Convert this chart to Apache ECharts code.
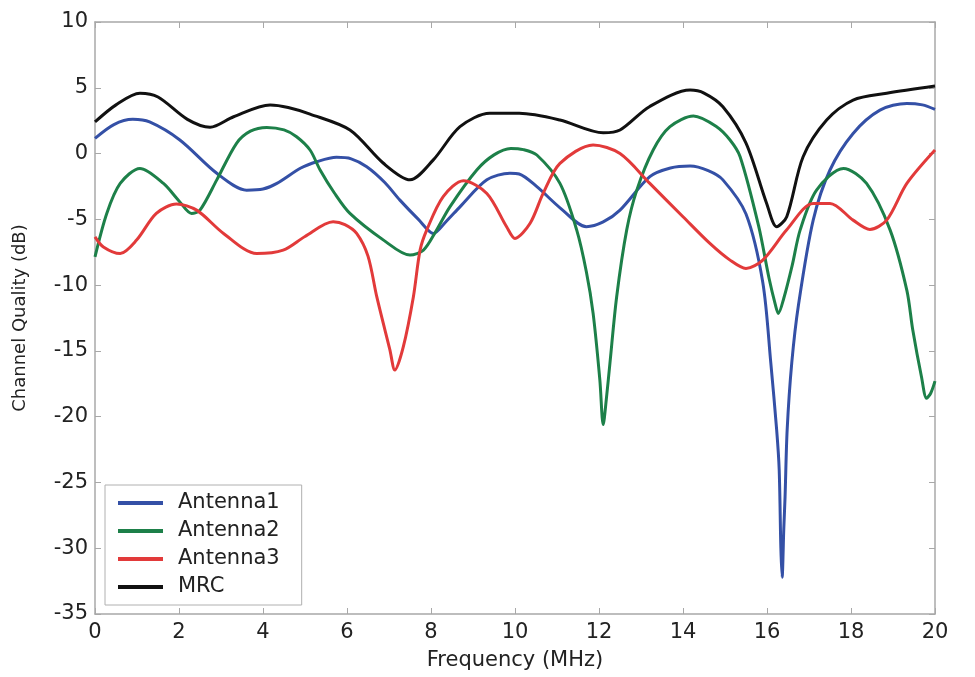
<!DOCTYPE html>
<html>
<head>
<meta charset="utf-8">
<script src="https://cdn.jsdelivr.net/npm/echarts@6/dist/echarts.min.js"></script>
<style>
html,body{margin:0;padding:0;background:#fff;}
#c{width:975px;height:677px;}
</style>
</head>
<body>
<div id="c"></div>
<script>
// ---- data ----
const xTicks = [0, 2, 4, 6, 8, 10, 12, 14, 16, 18, 20];
const yTicks = [10, 5, 0, -5, -10, -15, -20, -25, -30, -35];
const seriesNames = ['Antenna1', 'Antenna2', 'Antenna3', 'MRC'];

const a1Freq = [0, 0.45, 0.9, 1.3, 2.02, 2.9, 3.61, 4.0, 4.33, 4.9, 5.3, 5.75, 6.1, 6.47, 6.9, 7.26, 7.7, 8.06, 8.35, 8.69, 9.33, 9.88, 10.1, 10.52, 11.1, 11.7, 12.1, 12.5, 13.21, 13.7, 14.17, 14.6, 14.95, 15.5, 15.9, 16.09, 16.23, 16.29, 16.33, 16.36, 16.4, 16.43, 16.48, 16.59, 16.75, 17.1, 17.5, 18.05, 18.69, 19.33, 19.7, 20];
const a1Val  = [1.15, 2.2, 2.6, 2.4, 1.03, -1.5, -2.78, -2.7, -2.27, -1.1, -0.6, -0.29, -0.4, -1.0, -2.2, -3.54, -5.0, -6.07, -5.2, -4.05, -2.0, -1.5, -1.55, -2.52, -4.2, -5.56, -5.2, -4.3, -1.76, -1.1, -0.95, -1.3, -2.0, -4.6, -9.8, -15.9, -21.0, -24.0, -30.0, -32.2, -28.5, -26.1, -21.0, -15.9, -11.5, -5.06, -1.25, 1.53, 3.3, 3.81, 3.7, 3.36];

const a2Freq = [0, 0.28, 0.6, 1.07, 1.63, 2.0, 2.3, 2.5, 2.9, 3.37, 3.7, 4.09, 4.5, 4.8, 5.12, 5.36, 5.7, 6.07, 6.87, 7.5, 7.82, 8.1, 8.45, 9.09, 9.5, 9.9, 10.2, 10.52, 11.07, 11.47, 11.7, 11.86, 12.02, 12.1, 12.18, 12.26, 12.42, 12.66, 12.9, 13.29, 13.69, 14.25, 14.8, 15.12, 15.36, 15.8, 16.05, 16.2, 16.27, 16.4, 16.6, 16.79, 17.18, 17.82, 18.37, 18.93, 19.33, 19.47, 19.68, 19.8, 19.9, 20];
const a2Val  = [-7.85, -4.55, -2.27, -1.13, -2.27, -3.6, -4.55, -4.3, -2.0, 0.78, 1.7, 1.99, 1.8, 1.28, 0.27, -1.25, -3.0, -4.55, -6.58, -7.72, -7.34, -6.0, -4.05, -1.25, -0.1, 0.39, 0.3, -0.11, -2.27, -5.82, -9.0, -12.15, -17.2, -20.6, -18.5, -15.95, -10.9, -5.8, -2.78, 0.27, 2.04, 2.85, 2.04, 1.03, -0.24, -5.5, -9.5, -11.5, -12.15, -11.0, -8.5, -5.8, -2.78, -1.13, -2.27, -5.8, -10.4, -13.4, -17.0, -18.6, -18.2, -17.3];

const a3Freq = [0, 0.2, 0.6, 0.99, 1.46, 1.94, 2.42, 3.06, 3.85, 4.48, 5.0, 5.67, 5.95, 6.23, 6.5, 6.71, 7.02, 7.14, 7.34, 7.58, 7.74, 7.9, 8.29, 8.77, 9.33, 9.8, 10.0, 10.36, 10.67, 11.07, 11.86, 12.5, 13.21, 14.0, 14.64, 15.12, 15.5, 15.9, 16.47, 17.1, 17.5, 18.05, 18.45, 18.85, 19.33, 20];
const a3Val  = [-6.33, -7.1, -7.6, -6.58, -4.55, -3.84, -4.3, -6.07, -7.6, -7.34, -6.3, -5.18, -5.4, -6.07, -7.8, -10.9, -14.9, -16.46, -14.7, -10.9, -7.34, -5.8, -3.28, -2.07, -3.03, -5.56, -6.45, -5.3, -3.03, -0.75, 0.65, 0.0, -2.27, -4.8, -6.83, -8.1, -8.73, -8.1, -5.8, -3.79, -3.79, -5.06, -5.77, -5.06, -2.27, 0.27];

const mrcFreq = [0, 0.5, 1.07, 1.5, 2.2, 2.74, 3.3, 4.17, 4.6, 5.12, 6.07, 6.86, 7.5, 8.05, 8.69, 9.4, 10.1, 11.07, 12.1, 12.5, 13.2, 14.17, 14.5, 14.95, 15.5, 15.99, 16.23, 16.47, 16.86, 17.42, 18.05, 18.85, 20];
const mrcVal  = [2.4, 3.7, 4.58, 4.3, 2.6, 2.0, 2.8, 3.69, 3.5, 3.0, 1.79, -0.72, -2.0, -0.5, 2.04, 3.06, 3.06, 2.55, 1.58, 1.79, 3.56, 4.83, 4.6, 3.56, 0.8, -3.77, -5.56, -4.8, -0.24, 2.55, 4.07, 4.58, 5.13];

const seriesColors = ['#3450a6', '#1d8049', '#e23a3a', '#111111'];
// --------------------------------------

const zip = (xs, ys) => xs.map((x, i) => [x, ys[i]]);
const allData = [zip(a1Freq, a1Val), zip(a2Freq, a2Val), zip(a3Freq, a3Val), zip(mrcFreq, mrcVal)];

const FONT = 'DejaVu Sans';
const frame = '#a8a8a8';

const chart = echarts.init(document.getElementById('c'));
chart.setOption({
  animation: false,
  backgroundColor: '#ffffff',
  grid: { left: 95, right: 40, top: 22, bottom: 63, containLabel: false },
  legend: {
    data: seriesNames,
    orient: 'vertical',
    left: 105,
    top: 485,
    backgroundColor: '#ffffff',
    borderColor: '#b0b0b0',
    borderWidth: 1,
    padding: [7, 22, 7, 13],
    itemWidth: 45,
    itemHeight: 4,
    itemGap: 6,
    icon: 'rect',
    textStyle: { fontFamily: FONT, fontSize: 21, color: '#222', lineHeight: 22, padding: [0, 0, 0, 10] }
  },
  xAxis: [{
    type: 'value', min: 0, max: 20, interval: 2,
    name: 'Frequency (MHz)', nameLocation: 'middle', nameGap: 36,
    nameTextStyle: { fontFamily: FONT, fontSize: 21, color: '#222' },
    axisLine: { onZero: false, lineStyle: { color: frame, width: 1.5 } },
    axisTick: { inside: true, length: 6, lineStyle: { color: frame } },
    axisLabel: { fontFamily: FONT, fontSize: 21, color: '#222', margin: 8,
      formatter: v => xTicks.includes(v) ? String(v) : '' },
    splitLine: { show: false }
  }, {
    type: 'value', min: 0, max: 20, interval: 2, position: 'top',
    axisLine: { onZero: false, lineStyle: { color: frame, width: 1.5 } },
    axisTick: { inside: true, length: 6, lineStyle: { color: frame } },
    axisLabel: { show: false }, splitLine: { show: false }
  }],
  yAxis: [{
    type: 'value', min: -35, max: 10, interval: 5,
    name: 'Channel Quality (dB)', nameLocation: 'middle', nameGap: 66,
    nameTextStyle: { fontFamily: FONT, fontSize: 18, color: '#222' },
    axisLine: { show: true, onZero: false, lineStyle: { color: frame, width: 1.5 } },
    axisTick: { show: true, inside: true, length: 6, lineStyle: { color: frame } },
    axisLabel: { fontFamily: FONT, fontSize: 21, color: '#222', margin: 7,
      formatter: v => yTicks.includes(v) ? String(v) : '' },
    splitLine: { show: false }
  }, {
    type: 'value', min: -35, max: 10, interval: 5, position: 'right',
    axisLine: { show: true, onZero: false, lineStyle: { color: frame, width: 1.5 } },
    axisTick: { show: true, inside: true, length: 6, lineStyle: { color: frame } },
    axisLabel: { show: false }, splitLine: { show: false }
  }],
  series: seriesNames.map((name, i) => ({
    name,
    type: 'line',
    xAxisIndex: 0,
    yAxisIndex: 0,
    data: allData[i],
    showSymbol: false,
    symbol: 'none',
    smooth: 0.3,
    color: seriesColors[i],
    lineStyle: { color: seriesColors[i], width: 3 },
    z: 2 + i
  }))
});
</script>
</body>
</html>
